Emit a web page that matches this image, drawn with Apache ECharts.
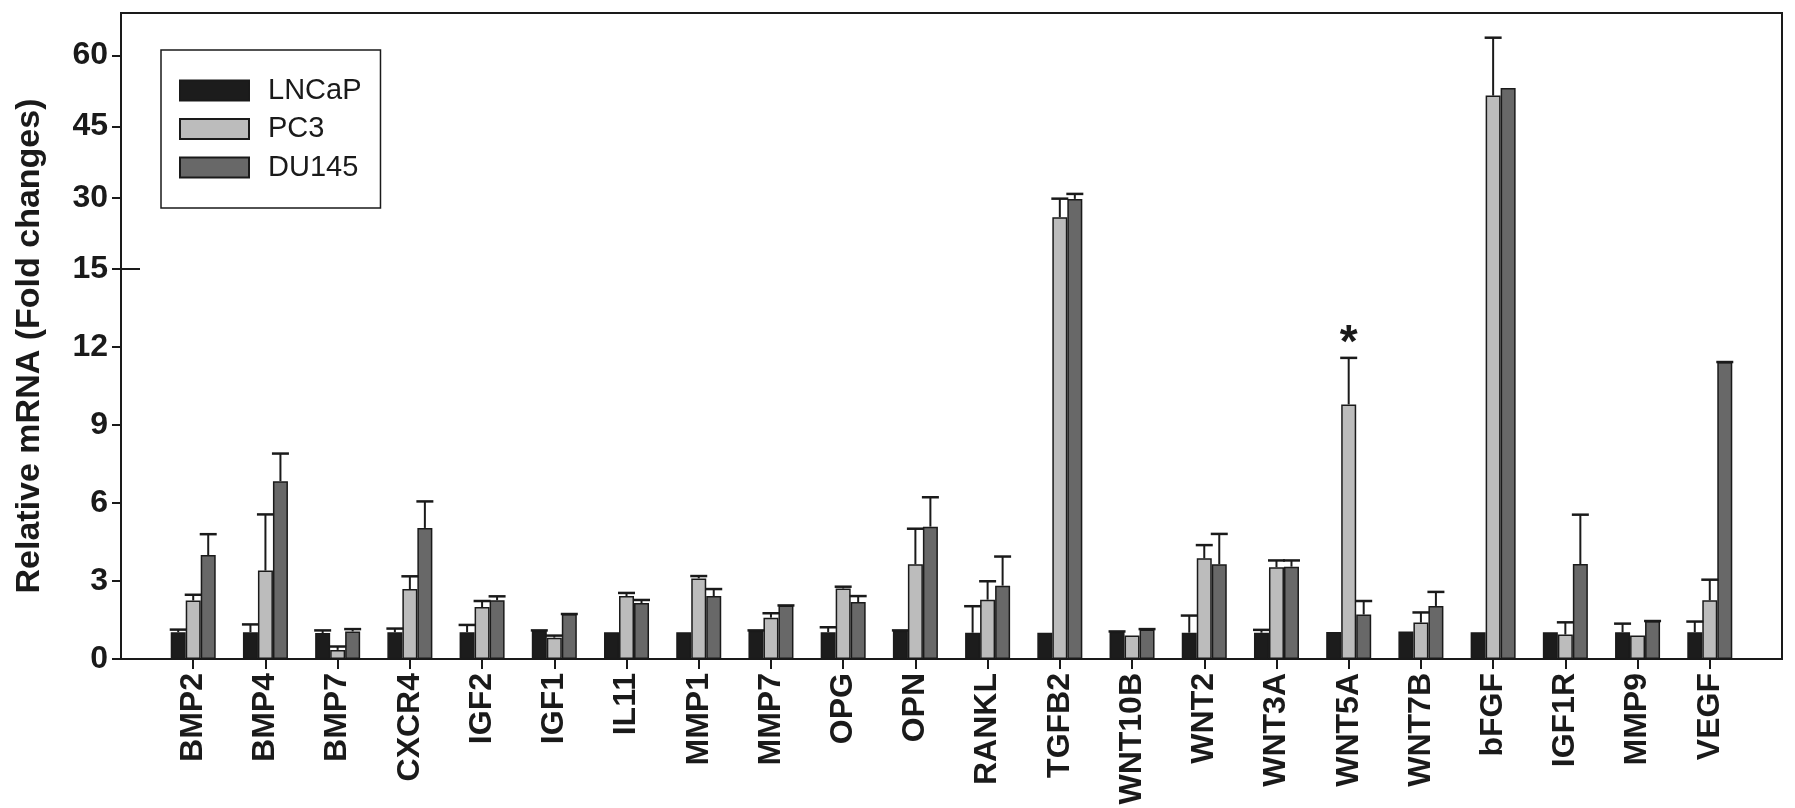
<!DOCTYPE html>
<html>
<head>
<meta charset="utf-8">
<script src="https://cdn.jsdelivr.net/npm/echarts@6/dist/echarts.min.js"></script>
<style>
    html, body { margin: 0; background: #fff; }
    #chart { width: 1795px; height: 808px; }
</style>
</head>
<body>
<div id="chart"></div>
<script>
    var genes = ['BMP2', 'BMP4', 'BMP7', 'CXCR4', 'IGF2', 'IGF1', 'IL11', 'MMP1', 'MMP7', 'OPG', 'OPN',
        'RANKL', 'TGFB2', 'WNT10B', 'WNT2', 'WNT3A', 'WNT5A', 'WNT7B', 'bFGF', 'IGF1R', 'MMP9', 'VEGF'];

    // mean fold change, and the upper error (null = no error bar drawn)
    var lncap = [1.03, 1.03, 1.0, 1.03, 1.03, 1.08, 1.03, 1.03, 1.08, 1.03, 1.08,
        1.01, 1.01, 1.04, 1.01, 1.01, 1.04, 1.06, 1.03, 1.03, 1.03, 1.03];
    var lncapErr = [0.1, 0.3, 0.1, 0.14, 0.28, 0.02, null, null, 0.02, 0.19, 0.02,
        1.02, null, 0.02, 0.66, 0.11, null, null, null, null, 0.33, 0.41];

    var pc3 = [2.25, 3.4, 0.35, 2.69, 2.0, 0.82, 2.42, 3.1, 1.59, 2.71, 3.64,
        2.28, 25.9, 0.9, 3.87, 3.53, 9.79, 1.4, 51.5, 0.94, 0.9, 2.26];
    var pc3Err = [0.22, 2.16, 0.13, 0.49, 0.23, 0.08, 0.12, 0.09, 0.17, 0.07, 1.37,
        0.71, 3.9, null, 0.51, 0.26, 1.79, 0.39, 12.2, 0.47, null, 0.79];

    var du145 = [4.0, 6.84, 1.06, 5.04, 2.26, 1.73, 2.15, 2.42, 2.06, 2.19, 5.09,
        2.82, 29.75, 1.13, 3.64, 3.55, 1.71, 2.04, 53.1, 3.65, 1.46, 11.42];
    var du145Err = [0.8, 1.06, 0.09, 1.02, 0.15, 0, 0.12, 0.27, 0, 0.23, 1.13,
        1.12, 1.05, 0.02, 1.17, 0.24, 0.52, 0.54, null, 1.9, 0, 0];

    var tickValues = [0, 3, 6, 9, 12, 15, 30, 45, 60];
    var axisTop = 68.9;
    var starGene = 'WNT5A';
    var starLevel = 12.5;

    // broken axis: linear to 15, compressed above
    var breakAt = 15;
    var upperRatio = 0.1826;
    var toAxis = function (v) {
        return v <= breakAt ? v : breakAt + (v - breakAt) * upperRatio;
    };
    var fromAxis = function (t) {
        return t <= breakAt ? t : breakAt + (t - breakAt) / upperRatio;
    };

    var ink = '#1a1a1a';
    var font = "'Liberation Sans', Arial, sans-serif";
    var barW = 15;

    var barSeries = function (name, vals, color, extra) {
        var s = {
            name: name,
            type: 'bar',
            barWidth: barW,
            barGap: '0%',
            data: vals.map(function (v, i) { return [i + 1, toAxis(v)]; }),
            itemStyle: { color: color, borderColor: ink, borderWidth: 1.5 },
            emphasis: { disabled: true }
        };
        return Object.assign(s, extra || {});
    };

    var errorSeries = function (vals, errs, shift) {
        var data = [];
        vals.forEach(function (v, i) {
            if (errs[i] !== null) data.push([i + 1, v, errs[i]]);
        });
        return {
            type: 'custom',
            z: 5,
            encode: { x: 0, y: 1 },
            data: data,
            renderItem: function (params, api) {
                var x = api.value(0), v = api.value(1), e = api.value(2);
                var base = api.coord([x, toAxis(v)]);
                var top = api.coord([x, toAxis(v + e)]);
                var cx = base[0] + shift;
                return {
                    type: 'group',
                    children: [{
                        type: 'line',
                        shape: { x1: cx, y1: base[1], x2: cx, y2: top[1] },
                        style: { stroke: ink, lineWidth: 2 }
                    }, {
                        type: 'line',
                        shape: { x1: cx - 8.5, y1: top[1], x2: cx + 8.5, y2: top[1] },
                        style: { stroke: ink, lineWidth: 2.5 }
                    }]
                };
            }
        };
    };

    var axisTicks = tickValues.map(toAxis);

    var option = {
        animation: false,
        backgroundColor: '#fff',
        textStyle: { fontFamily: font },
        grid: {
            left: 121, right: 13, top: 13, bottom: 149,
            show: true, borderColor: ink, borderWidth: 2,
            outerBoundsMode: 'none'
        },
        legend: {
            data: ['LNCaP', 'PC3', 'DU145'],
            orient: 'vertical',
            left: 161, top: 50,
            icon: 'rect',
            itemWidth: 69, itemHeight: 20, itemGap: 9.5,
            padding: [26, 19, 26, 18],
            backgroundColor: '#fff',
            borderColor: ink, borderWidth: 1.5,
            selectedMode: false,
            textStyle: { fontSize: 29, color: ink, fontFamily: font, padding: [0, 0, 0, 14] }
        },
        xAxis: {
            type: 'category',
            data: [''].concat(genes, ['']),
            boundaryGap: false,
            axisLine: { lineStyle: { color: ink, width: 2 } },
            axisTick: {
                interval: function (i) { return i > 0 && i <= genes.length; },
                length: 10, lineStyle: { color: ink, width: 2 }
            },
            axisLabel: {
                interval: 0, rotate: 90, margin: 14,
                fontSize: 32, fontWeight: 'bold', color: ink, fontFamily: font
            }
        },
        yAxis: [{
            type: 'value',
            min: 0, max: toAxis(axisTop),
            name: 'Relative mRNA (Fold changes)',
            nameLocation: 'middle', nameGap: 74,
            nameTextStyle: { fontSize: 34, fontWeight: 'bold', color: ink, fontFamily: font, padding: [0, 20, 0, 0] },
            splitLine: { show: false },
            axisLine: { show: true, lineStyle: { color: ink, width: 2 } },
            axisTick: { show: true, customValues: axisTicks, length: 9, lineStyle: { color: ink, width: 2 } },
            axisLabel: {
                customValues: axisTicks, margin: 13,
                fontSize: 32, fontWeight: 'bold', color: ink, fontFamily: font,
                formatter: function (t) { return String(Math.round(fromAxis(t))); }
            }
        }, {
            type: 'value',
            position: 'left',
            min: 0, max: toAxis(axisTop),
            splitLine: { show: false },
            axisLine: { show: false },
            axisLabel: { show: false },
            axisTick: { show: true, inside: true, customValues: [breakAt], length: 19, lineStyle: { color: ink, width: 2 } }
        }],
        series: [
            barSeries('LNCaP', lncap, '#1c1c1c'),
            barSeries('PC3', pc3, '#bcbcbc', {
                markPoint: {
                    symbol: 'circle', symbolSize: 1,
                    itemStyle: { color: 'rgba(0,0,0,0)' },
                    label: {
                        show: true, position: 'inside', formatter: '*', offset: [0, 10],
                        fontSize: 46, fontWeight: 'bold', color: ink, fontFamily: font
                    },
                    data: [{ coord: [genes.indexOf(starGene) + 1, toAxis(starLevel)] }]
                }
            }),
            barSeries('DU145', du145, '#686868'),
            errorSeries(lncap, lncapErr, -barW),
            errorSeries(pc3, pc3Err, 0),
            errorSeries(du145, du145Err, barW)
        ]
    };

    var chart = echarts.init(document.getElementById('chart'));
    chart.setOption(option);
</script>
</body>
</html>
